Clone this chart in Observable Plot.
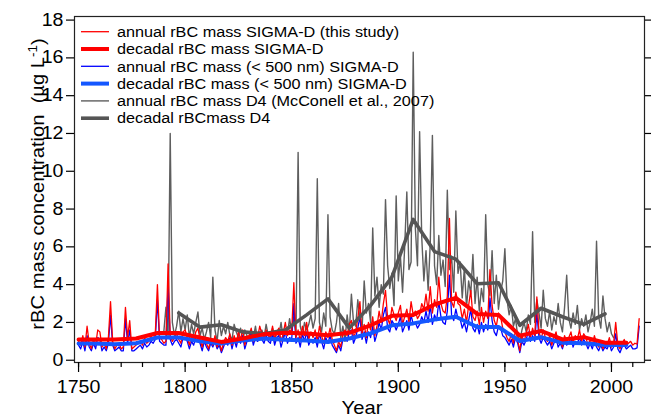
<!DOCTYPE html>
<html><head><meta charset="utf-8">
<script src="https://cdn.jsdelivr.net/npm/d3@7"></script>
<script src="https://cdn.jsdelivr.net/npm/@observablehq/plot@0.6"></script>
<style>body{margin:0;background:#fff;font-family:Arial,"Liberation Sans",sans-serif}</style>
</head><body><div id="chart"></div>
<script>
// ---- data ----
const sigmaStart = 1750;
const redAnnual = [
1.0,0.8,1.3,0.7,1.8,0.9,0.6,1.1,0.8,1.6,
1.5,0.7,0.9,0.6,1.2,3.1,1.0,0.6,0.8,0.9,
0.6,0.7,2.8,1.2,2.1,0.6,0.7,0.8,0.9,1.0,
0.8,1.2,0.9,1.0,1.3,1.1,1.4,4.0,1.2,1.1,
0.9,1.0,5.1,1.3,1.0,1.2,1.4,1.1,0.9,1.5,
1.6,1.2,0.8,1.3,1.0,1.5,1.7,1.1,0.7,1.2,
0.9,0.6,1.1,0.8,1.3,0.7,1.0,0.5,0.9,1.2,
1.0,1.4,0.8,1.3,0.9,1.5,1.1,1.6,0.8,1.2,
1.3,1.7,1.0,1.5,1.2,1.8,1.4,1.1,1.6,1.3,
1.2,1.8,1.1,1.5,1.7,1.0,1.4,2.0,1.3,1.6,
1.5,4.1,1.2,1.6,1.0,1.8,1.3,2.0,1.1,1.5,
1.2,1.6,1.0,1.8,1.3,0.9,1.5,1.2,1.7,1.1,
0.8,0.5,1.0,0.7,1.4,1.6,1.3,1.9,2.1,1.2,
1.5,2.2,3.1,1.4,1.9,1.2,2.0,1.6,2.3,1.3,
1.8,2.6,2.0,3.0,3.7,2.2,1.9,2.8,2.4,2.1,
2.5,2.9,1.9,2.3,2.7,2.0,3.1,2.4,2.6,2.2,
2.4,3.0,2.7,3.5,2.6,3.9,2.5,3.2,2.8,4.4,
3.0,2.6,2.5,3.4,7.5,3.1,2.8,3.6,3.0,2.9,
2.2,2.7,2.0,2.9,3.7,2.3,2.1,2.6,1.9,2.8,
2.0,2.6,2.2,4.8,2.9,2.1,1.8,2.5,2.3,1.7,
1.5,1.2,1.0,1.4,0.9,1.6,1.1,0.5,1.3,1.0,
1.4,1.9,1.2,1.7,1.3,3.35,1.5,1.1,1.6,1.2,
1.0,1.3,0.8,1.2,1.5,0.9,1.1,0.7,1.3,1.0,
1.2,1.5,0.9,1.3,1.1,1.6,1.0,1.4,1.2,0.8,
1.1,0.8,1.3,0.9,0.7,1.0,0.6,0.9,0.8,1.2,
0.7,0.9,2.0,0.8,0.6,0.9,1.1,0.8,0.9,1.0,
0.8,0.9,0.85,2.2];
const blueAnnual = [
0.8,0.6,1.0,0.5,1.3,0.7,0.5,0.9,0.6,1.2,
1.1,0.5,0.7,0.5,0.9,2.4,0.8,0.5,0.6,0.7,
0.5,0.5,2.2,0.9,1.6,0.5,0.5,0.6,0.7,0.8,
0.6,0.9,0.7,0.8,1.0,0.9,1.1,3.2,1.0,0.9,
0.8,0.8,4.0,1.1,0.8,1.0,1.1,0.9,0.7,1.2,
1.2,1.0,0.6,1.0,0.8,1.2,1.3,0.9,0.5,1.0,
0.7,0.5,0.9,0.7,1.0,0.6,0.8,0.4,0.7,1.0,
0.8,1.2,0.6,1.1,0.7,1.2,0.9,1.3,0.6,1.0,
1.1,1.4,0.8,1.2,1.0,1.5,1.1,0.9,1.3,1.0,
0.9,1.4,0.8,1.2,1.3,0.7,1.1,1.5,0.9,1.2,
1.1,3.0,0.9,1.2,0.7,1.4,1.0,1.5,0.8,1.1,
0.9,1.2,0.7,1.4,1.0,0.6,1.2,0.9,1.3,0.8,
0.6,0.4,0.8,0.5,1.1,1.2,1.0,1.5,1.6,0.9,
1.2,1.7,2.3,1.1,1.5,0.9,1.5,1.2,1.8,1.0,
1.4,2.0,1.6,2.4,2.8,1.7,1.5,2.1,1.9,1.6,
1.9,2.3,1.5,1.8,2.1,1.6,2.4,1.9,2.0,1.7,
1.9,2.3,2.0,2.6,2.0,2.9,1.9,2.4,2.1,3.1,
2.3,2.0,1.9,2.6,4.5,2.4,2.1,2.7,2.2,2.2,
1.7,2.0,1.5,2.1,2.7,1.7,1.5,1.9,1.4,2.0,
1.5,1.9,1.6,3.3,2.1,1.5,1.3,1.8,1.7,1.3,
1.2,1.0,0.8,1.1,0.7,1.2,0.9,0.4,1.0,0.8,
1.1,1.5,1.0,1.3,1.0,2.5,1.2,0.9,1.2,1.0,
0.8,1.0,0.6,0.9,1.2,0.7,0.9,0.6,1.0,0.8,
0.9,1.2,0.7,1.0,0.9,1.2,0.8,1.1,0.9,0.6,
0.9,0.6,1.0,0.7,0.5,0.8,0.5,0.7,0.6,0.9,
0.5,0.7,1.4,0.6,0.4,0.7,0.8,0.6,0.7,0.8,
0.6,0.6,0.65,1.8];
const d4Start = 1790;
const greyAnnual = [
1.5,2.8,1.2,12.0,2.0,1.3,1.8,2.6,1.5,2.2,
1.6,2.4,1.2,1.9,1.4,2.0,2.55,1.3,1.7,1.1,
1.5,2.0,1.2,4.4,1.6,1.0,2.1,1.3,1.8,1.4,
2.0,1.3,1.1,1.9,1.5,1.2,1.7,1.0,1.6,1.3,
1.1,1.5,1.2,1.8,1.0,1.4,1.6,1.2,1.9,1.3,
1.2,1.7,1.0,1.5,1.3,2.0,1.1,1.6,1.4,2.2,
1.5,2.3,1.4,11.0,1.8,1.3,2.0,1.6,1.9,2.4,
1.7,2.2,9.6,2.0,1.5,2.5,1.8,7.7,2.3,1.6,
1.4,2.0,3.0,1.2,1.8,1.0,2.4,1.5,3.5,2.0,
1.8,3.2,2.2,1.6,4.2,2.5,3.0,2.0,7.0,3.4,
4.4,2.8,4.0,3.5,8.5,5.0,3.8,4.6,2.9,8.7,
4.2,5.5,3.6,6.0,8.9,4.8,5.2,16.3,7.0,5.0,
12.1,6.5,4.2,5.8,3.7,6.2,11.9,5.0,4.0,6.6,
4.5,5.3,3.9,9.0,4.8,5.5,3.6,7.9,4.6,5.2,
3.3,4.9,2.8,4.2,3.5,5.6,3.0,4.4,2.6,3.8,
3.1,7.7,4.0,3.4,5.8,3.0,4.5,2.7,3.6,4.2,
5.9,3.2,2.4,2.9,1.8,2.2,1.3,1.0,1.6,2.0,
1.5,2.4,1.9,6.8,2.0,3.2,2.5,1.7,3.7,2.2,
1.8,2.6,1.6,2.3,1.9,3.0,2.0,1.5,2.8,4.5,
2.2,1.7,2.5,1.9,2.9,1.6,2.2,1.8,2.4,1.5,
2.0,2.7,1.8,6.3,2.3,1.7,3.4,2.2,1.5,2.0,
1.4,1.2];
const sigmaDecYears = [1750,1757,1767,1777,1787,1797,1807,1817,1827,1837,1847,1857,1867,1877,1887,1897,1907,1917,1927,1937,1947,1957,1967,1977,1987,1997,2007];
const redDecadal  = [1.1,1.1,1.1,1.15,1.44,1.44,1.2,0.97,1.15,1.38,1.45,1.42,1.32,1.45,1.85,2.35,2.4,2.95,3.3,2.45,2.4,1.3,1.55,1.1,1.22,0.93,0.93];
const blueDecadal = [0.88,0.88,0.85,0.9,1.2,1.2,1.0,0.88,1.05,1.15,1.08,1.05,0.97,1.15,1.42,1.85,1.95,2.15,2.3,1.76,1.76,1.02,1.22,0.92,0.9,0.8,0.8];
const d4DecYears = [1797,1807,1817,1827,1837,1847,1857,1867,1877,1887,1897,1907,1917,1927,1937,1947,1957,1967,1977,1987,1997];
const greyDecadal = [2.5,1.75,1.88,1.5,1.4,1.6,2.4,3.25,1.7,2.9,4.4,7.45,5.75,5.35,4.05,4.1,1.85,2.75,2.3,1.9,2.45];
const xMajorTicks = [1750,1800,1850,1900,1950,2000];
const xMinorTicks = [1750,1760,1770,1780,1790,1800,1810,1820,1830,1840,1850,1860,1870,1880,1890,1900,1910,1920,1930,1940,1950,1960,1970,1980,1990,2000,2010];
const yTicks = [0,2,4,6,8,10,12,14,16,18];
const legendLabels = [
  "annual rBC mass SIGMA-D (this study)",
  "decadal rBC mass SIGMA-D",
  "annual rBC mass (< 500 nm) SIGMA-D",
  "decadal rBC mass (< 500 nm) SIGMA-D",
  "annual rBC mass D4 (McConell et al., 2007)",
  "decadal rBCmass D4"];
const seriesColors = ["#ff0000","#ff0000","#0000ff","#1457ff","#5e5e5e","#555555"];
const seriesWidths = [1.3,4,1.3,4,1.4,3.6];

// ---- build tables ----
const sig = redAnnual.map((v,i)=>({year: sigmaStart+i, red: v, blue: blueAnnual[i]}));
const d4 = greyAnnual.map((v,i)=>({year: d4Start+i, v}));
const sigDec = sigmaDecYears.map((y,i)=>({year: y, red: redDecadal[i], blue: blueDecadal[i]}));
const d4Dec = d4DecYears.map((y,i)=>({year: y, v: greyDecadal[i]}));

const FONT = "Arial, 'Liberation Sans', sans-serif";
const STRETCH = 1.12;

const chart = Plot.plot({
  width: 651, height: 418,
  marginLeft: 74, marginRight: 7, marginTop: 16, marginBottom: 56,
  style: {fontFamily: FONT, background: "#fff", color: "#000"},
  x: {domain: [1748.1, 2015.5]},
  y: {domain: [-0.12, 18.19]},
  marks: [
    Plot.lineY(d4, {x: "year", y: "v", stroke: seriesColors[4], strokeWidth: seriesWidths[4]}),
    Plot.lineY(sig, {x: "year", y: "blue", stroke: seriesColors[2], strokeWidth: seriesWidths[2]}),
    Plot.lineY(sig, {x: "year", y: "red", stroke: seriesColors[0], strokeWidth: seriesWidths[0]}),
    Plot.lineY(d4Dec, {x: "year", y: "v", stroke: seriesColors[5], strokeWidth: seriesWidths[5]}),
    Plot.lineY(sigDec, {x: "year", y: "blue", stroke: seriesColors[3], strokeWidth: seriesWidths[3]}),
    Plot.lineY(sigDec, {x: "year", y: "red", stroke: seriesColors[1], strokeWidth: seriesWidths[1]}),
    Plot.frame({stroke: "#222", strokeWidth: 1.2}),
    Plot.axisY(yTicks, {anchor: "left", tickSize: 8, tickPadding: 3, fontSize: 17.5, label: null, strokeWidth: 1.2}),
    Plot.axisY(yTicks, {anchor: "right", tickSize: 8, tickFormat: () => "", label: null, strokeWidth: 1.2}),
    Plot.axisX(xMajorTicks, {anchor: "bottom", tickSize: 10, tickPadding: 8, fontSize: 17.5, label: null, tickFormat: d => String(d), strokeWidth: 1.2}),
    Plot.axisX(xMinorTicks, {anchor: "bottom", tickSize: 5, tickFormat: () => "", label: null, strokeWidth: 1.2})
  ]
});
document.getElementById("chart").appendChild(chart);

// horizontal widening of glyphs (the reference face is wider than Arial)
function widen(sel, k) {
  sel.each(function() {
    const x = +this.getAttribute("x") || 0, y = +this.getAttribute("y") || 0;
    const t = this.getAttribute("transform") || "";
    this.setAttribute("transform", `${t} translate(${x},${y}) scale(${k},1) translate(${-x},${-y})`);
  });
}
const svg = d3.select(chart);
widen(svg.selectAll("text"), STRETCH);

// ---- titles & legend ----
const xl = svg.append("text").attr("x", 362).attr("y", 414).attr("text-anchor", "middle")
  .attr("font-size", 18).attr("fill", "#000").attr("font-family", FONT).text("Year");
widen(xl, STRETCH);
const yl = svg.append("text")
  .attr("transform", `translate(44,184) rotate(-90) scale(${STRETCH},1)`)
  .attr("text-anchor", "middle").attr("font-size", 18).attr("fill", "#000").attr("font-family", FONT);
yl.append("tspan").text("rBC mass concentration  (\u00b5g L");
yl.append("tspan").attr("font-size", 12).attr("dy", -7).text("-1");
yl.append("tspan").attr("dy", 7).text(")");

const lg = svg.append("g").attr("font-family", FONT);
legendLabels.forEach((lab, i) => {
  const y = 31.7 + i * 17.3;
  lg.append("line").attr("x1", 81).attr("x2", 109).attr("y1", y).attr("y2", y)
    .attr("stroke", seriesColors[i]).attr("stroke-width", seriesWidths[i]);
  const t = lg.append("text").attr("x", 117).attr("y", y).attr("dy", "0.36em")
    .attr("text-anchor", "start").attr("font-size", 14.5).attr("fill", "#000").text(lab);
  widen(t, STRETCH);
});
</script></body></html>
